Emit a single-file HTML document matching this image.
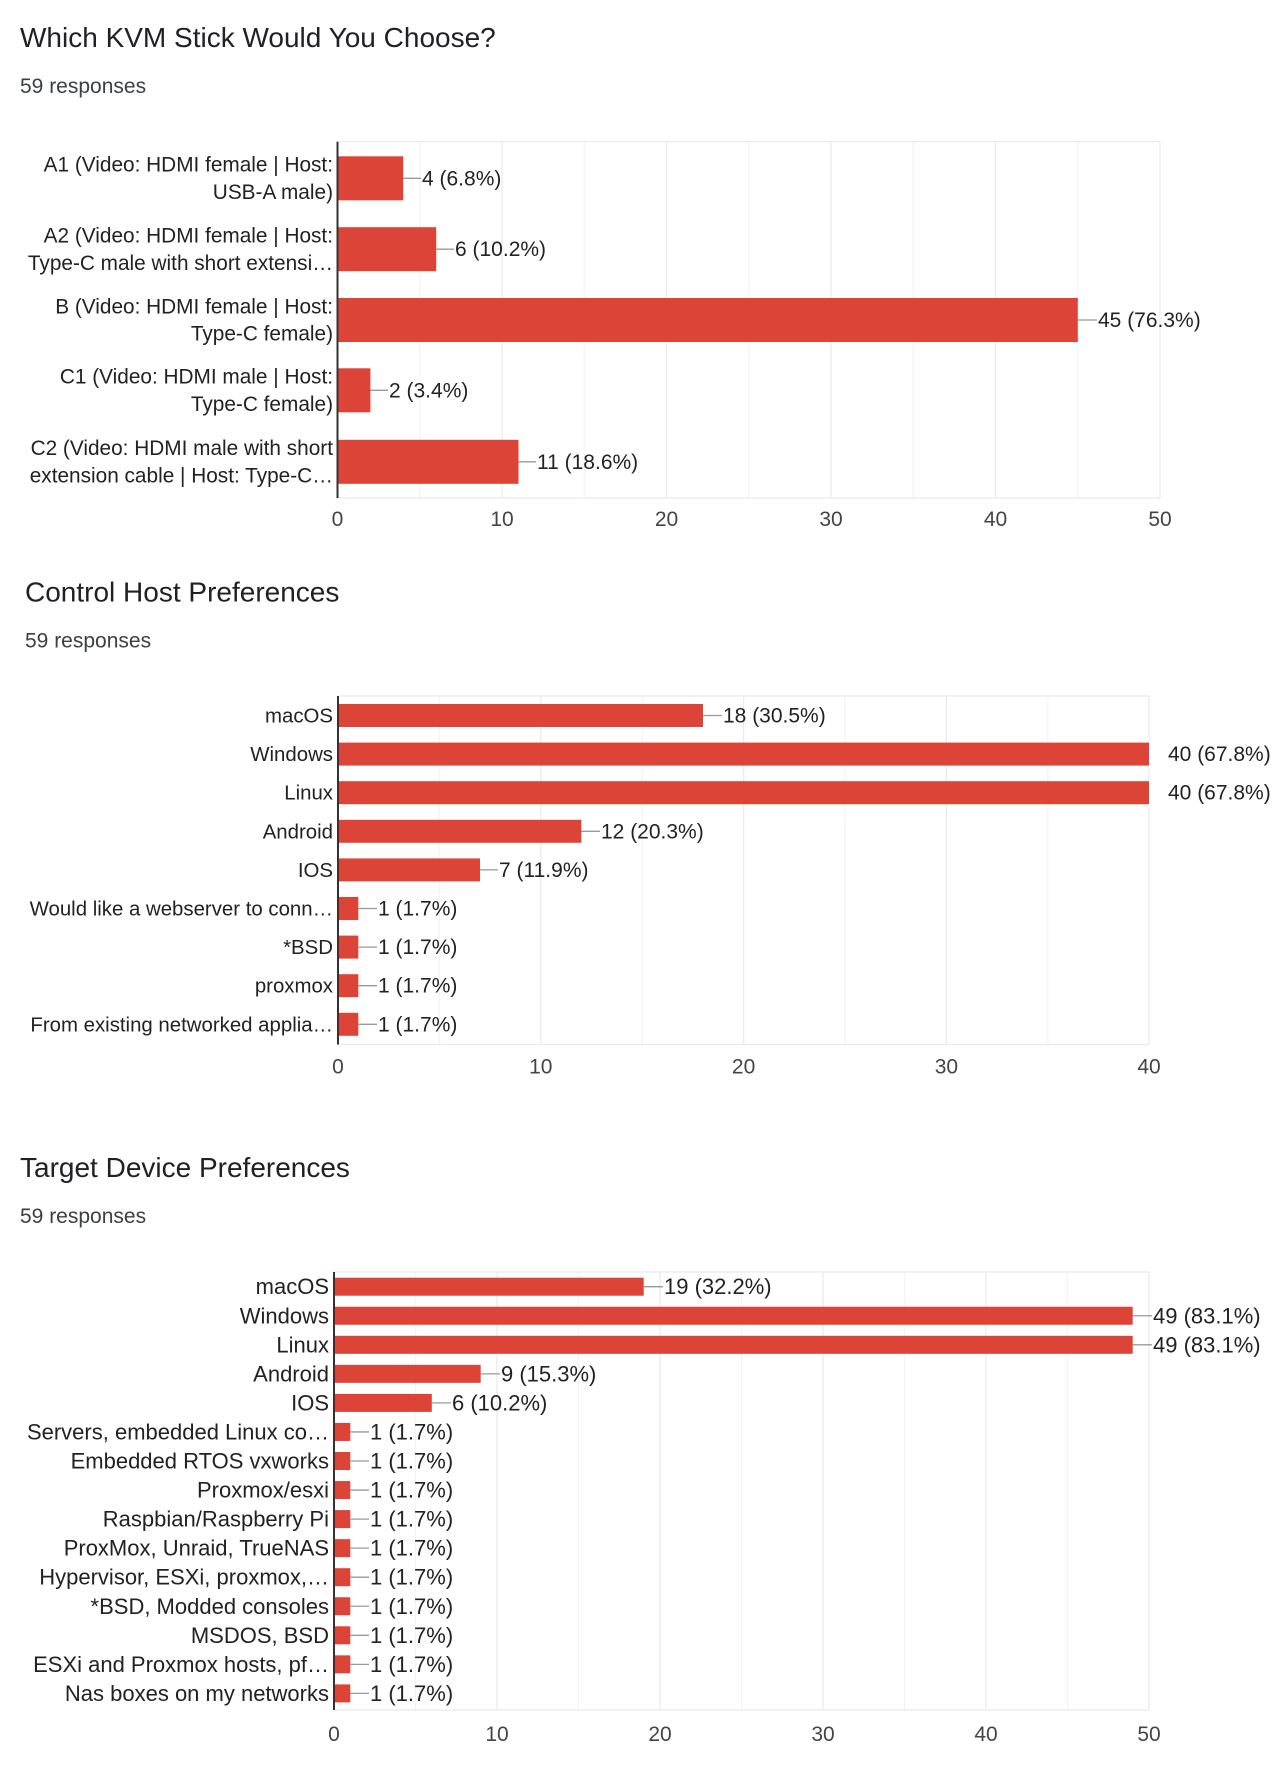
<!DOCTYPE html>
<html><head><meta charset="utf-8"><style>
html,body{margin:0;padding:0;background:#fff;}
svg{display:block;font-family:"Liberation Sans",Arial,sans-serif;}
.t{font-size:28px;fill:#202124;}
.s{font-size:21px;fill:#3c4043;}
.l{font-size:20.8px;fill:#222;}
.l2{font-size:20.4px;fill:#222;}
.v{font-size:21px;fill:#222;}
.k{font-size:21px;fill:#444;}
.l3{font-size:22px;fill:#222;}
.v3{font-size:22px;fill:#222;}
.g{stroke:#ebebeb;stroke-width:1.3;}
.gm{stroke:#f4f4f4;stroke-width:1.3;}
.ld{stroke:#999;stroke-width:1.3;}
.ax{stroke:#333;stroke-width:2;}
.b{fill:#db4437;}
</style></head><body>
<svg width="1279" height="1783" viewBox="0 0 1279 1783">
<!-- Chart 1 -->
<text class="t" x="20" y="47">Which KVM Stick Would You Choose?</text>
<text class="s" x="20" y="93">59 responses</text>
<g>
<line class="gm" x1="419.75" y1="141.7" x2="419.75" y2="498"/><line class="g" x1="502" y1="141.7" x2="502" y2="498"/>
<line class="gm" x1="584.25" y1="141.7" x2="584.25" y2="498"/><line class="g" x1="666.5" y1="141.7" x2="666.5" y2="498"/>
<line class="gm" x1="748.75" y1="141.7" x2="748.75" y2="498"/><line class="g" x1="831" y1="141.7" x2="831" y2="498"/>
<line class="gm" x1="913.25" y1="141.7" x2="913.25" y2="498"/><line class="g" x1="995.5" y1="141.7" x2="995.5" y2="498"/>
<line class="gm" x1="1077.75" y1="141.7" x2="1077.75" y2="498"/><line class="g" x1="1160" y1="141.7" x2="1160" y2="498"/>
<line class="g" x1="337.5" y1="141.7" x2="1160" y2="141.7"/><line class="g" x1="337.5" y1="498" x2="1160" y2="498"/>
<rect class="b" x="337.5" y="156.3" width="65.8" height="44"/>
<rect class="b" x="337.5" y="227.2" width="98.7" height="44"/>
<rect class="b" x="337.5" y="298" width="740.3" height="44"/>
<rect class="b" x="337.5" y="368.3" width="32.9" height="44"/>
<rect class="b" x="337.5" y="439.8" width="181" height="44"/>
<line class="ax" x1="337.5" y1="141.7" x2="337.5" y2="498"/>
<line class="ld" x1="403.3" y1="178.3" x2="421" y2="178.3"/><text class="v" x="422" y="185.3">4 (6.8%)</text>
<line class="ld" x1="436.2" y1="249.2" x2="454" y2="249.2"/><text class="v" x="455" y="256.2">6 (10.2%)</text>
<line class="ld" x1="1077.8" y1="320" x2="1097" y2="320"/><text class="v" x="1098" y="327">45 (76.3%)</text>
<line class="ld" x1="370.4" y1="390.3" x2="388" y2="390.3"/><text class="v" x="389" y="397.3">2 (3.4%)</text>
<line class="ld" x1="518.5" y1="461.8" x2="536" y2="461.8"/><text class="v" x="537" y="468.8">11 (18.6%)</text>
<g text-anchor="end">
<text class="l" x="333" y="171.6">A1 (Video: HDMI female | Host:</text><text class="l" x="333" y="199">USB-A male)</text>
<text class="l" x="333" y="242.5">A2 (Video: HDMI female | Host:</text><text class="l" x="333" y="269.9">Type-C male with short extensi…</text>
<text class="l" x="333" y="313.3">B (Video: HDMI female | Host:</text><text class="l" x="333" y="340.7">Type-C female)</text>
<text class="l" x="333" y="383.6">C1 (Video: HDMI male | Host:</text><text class="l" x="333" y="411">Type-C female)</text>
<text class="l" x="333" y="455.1">C2 (Video: HDMI male with short</text><text class="l" x="333" y="482.5">extension cable | Host: Type-C…</text>
</g>
<g text-anchor="middle">
<text class="k" x="337.5" y="526">0</text><text class="k" x="502" y="526">10</text><text class="k" x="666.5" y="526">20</text>
<text class="k" x="831" y="526">30</text><text class="k" x="995.5" y="526">40</text><text class="k" x="1160" y="526">50</text>
</g>
</g>
<!-- Chart 2 -->
<g transform="translate(0,-3.5)">
<text class="t" x="25" y="605">Control Host Preferences</text>
<text class="s" x="25" y="651">59 responses</text>
<line class="gm" x1="439.4" y1="699.5" x2="439.4" y2="1048"/><line class="g" x1="540.8" y1="699.5" x2="540.8" y2="1048"/>
<line class="gm" x1="642.2" y1="699.5" x2="642.2" y2="1048"/><line class="g" x1="743.6" y1="699.5" x2="743.6" y2="1048"/>
<line class="gm" x1="845" y1="699.5" x2="845" y2="1048"/><line class="g" x1="946.4" y1="699.5" x2="946.4" y2="1048"/>
<line class="gm" x1="1047.8" y1="699.5" x2="1047.8" y2="1048"/><line class="g" x1="1149" y1="699.5" x2="1149" y2="1048"/>
<line class="g" x1="338" y1="699.5" x2="1149" y2="699.5"/><line class="g" x1="338" y1="1048" x2="1149" y2="1048"/>
<rect class="b" x="338" y="707.5" width="365" height="23"/>
<rect class="b" x="338" y="746.1" width="811" height="23"/>
<rect class="b" x="338" y="784.7" width="811" height="23"/>
<rect class="b" x="338" y="823.3" width="243.4" height="23"/>
<rect class="b" x="338" y="861.9" width="142" height="23"/>
<rect class="b" x="338" y="900.5" width="20.3" height="23"/>
<rect class="b" x="338" y="939.1" width="20.3" height="23"/>
<rect class="b" x="338" y="977.7" width="20.3" height="23"/>
<rect class="b" x="338" y="1016.3" width="20.3" height="23"/>
<line class="ax" x1="338" y1="699.5" x2="338" y2="1048"/>
<line class="ld" x1="703" y1="719" x2="722" y2="719"/><text class="v" x="723" y="726">18 (30.5%)</text>
<text class="v" x="1168" y="764.6">40 (67.8%)</text>
<text class="v" x="1168" y="803.2">40 (67.8%)</text>
<line class="ld" x1="581.4" y1="834.8" x2="600" y2="834.8"/><text class="v" x="601" y="841.8">12 (20.3%)</text>
<line class="ld" x1="480" y1="873.4" x2="498" y2="873.4"/><text class="v" x="499" y="880.4">7 (11.9%)</text>
<line class="ld" x1="358.3" y1="912" x2="377" y2="912"/><text class="v" x="378" y="919">1 (1.7%)</text>
<line class="ld" x1="358.3" y1="950.6" x2="377" y2="950.6"/><text class="v" x="378" y="957.6">1 (1.7%)</text>
<line class="ld" x1="358.3" y1="989.2" x2="377" y2="989.2"/><text class="v" x="378" y="996.2">1 (1.7%)</text>
<line class="ld" x1="358.3" y1="1027.8" x2="377" y2="1027.8"/><text class="v" x="378" y="1034.8">1 (1.7%)</text>
<g text-anchor="end">
<text class="l2" x="333" y="726">macOS</text>
<text class="l2" x="333" y="764.6">Windows</text>
<text class="l2" x="333" y="803.2">Linux</text>
<text class="l2" x="333" y="841.8">Android</text>
<text class="l2" x="333" y="880.4">IOS</text>
<text class="l2" x="333" y="919">Would like a webserver to conn…</text>
<text class="l2" x="333" y="957.6">*BSD</text>
<text class="l2" x="333" y="996.2">proxmox</text>
<text class="l2" x="333" y="1034.8">From existing networked applia…</text>
</g>
<g text-anchor="middle">
<text class="k" x="338" y="1077">0</text><text class="k" x="540.8" y="1077">10</text><text class="k" x="743.6" y="1077">20</text>
<text class="k" x="946.4" y="1077">30</text><text class="k" x="1149" y="1077">40</text>
</g>
</g>
<!-- Chart 3 -->
<text class="t" x="20" y="1177">Target Device Preferences</text>
<text class="s" x="20" y="1223">59 responses</text>
<g>
<line class="gm" x1="415.5" y1="1272" x2="415.5" y2="1710"/><line class="g" x1="497" y1="1272" x2="497" y2="1710"/>
<line class="gm" x1="578.5" y1="1272" x2="578.5" y2="1710"/><line class="g" x1="660" y1="1272" x2="660" y2="1710"/>
<line class="gm" x1="741.5" y1="1272" x2="741.5" y2="1710"/><line class="g" x1="823" y1="1272" x2="823" y2="1710"/>
<line class="gm" x1="904.5" y1="1272" x2="904.5" y2="1710"/><line class="g" x1="986" y1="1272" x2="986" y2="1710"/>
<line class="gm" x1="1067.5" y1="1272" x2="1067.5" y2="1710"/><line class="g" x1="1149" y1="1272" x2="1149" y2="1710"/>
<line class="g" x1="334" y1="1272" x2="1149" y2="1272"/><line class="g" x1="334" y1="1710" x2="1149" y2="1710"/>
<rect class="b" x="334" y="1277.7" width="309.7" height="18"/>
<rect class="b" x="334" y="1306.75" width="798.7" height="18"/>
<rect class="b" x="334" y="1335.8" width="798.7" height="18"/>
<rect class="b" x="334" y="1364.85" width="146.7" height="18"/>
<rect class="b" x="334" y="1393.9" width="97.8" height="18"/>
<rect class="b" x="334" y="1422.95" width="16.3" height="18"/>
<rect class="b" x="334" y="1452" width="16.3" height="18"/>
<rect class="b" x="334" y="1481.05" width="16.3" height="18"/>
<rect class="b" x="334" y="1510.1" width="16.3" height="18"/>
<rect class="b" x="334" y="1539.15" width="16.3" height="18"/>
<rect class="b" x="334" y="1568.2" width="16.3" height="18"/>
<rect class="b" x="334" y="1597.25" width="16.3" height="18"/>
<rect class="b" x="334" y="1626.3" width="16.3" height="18"/>
<rect class="b" x="334" y="1655.35" width="16.3" height="18"/>
<rect class="b" x="334" y="1684.4" width="16.3" height="18"/>
<line class="ax" x1="334" y1="1272" x2="334" y2="1710"/>
<line class="ld" x1="643.7" y1="1286.7" x2="663" y2="1286.7"/><text class="v3" x="664" y="1294.2">19 (32.2%)</text>
<line class="ld" x1="1132.7" y1="1315.75" x2="1152" y2="1315.75"/><text class="v3" x="1153" y="1323.25">49 (83.1%)</text>
<line class="ld" x1="1132.7" y1="1344.8" x2="1152" y2="1344.8"/><text class="v3" x="1153" y="1352.3">49 (83.1%)</text>
<line class="ld" x1="480.7" y1="1373.85" x2="500" y2="1373.85"/><text class="v3" x="501" y="1381.35">9 (15.3%)</text>
<line class="ld" x1="431.8" y1="1402.9" x2="451" y2="1402.9"/><text class="v3" x="452" y="1410.4">6 (10.2%)</text>
<g>
<line class="ld" x1="350.3" y1="1431.95" x2="369" y2="1431.95"/><text class="v3" x="370" y="1439.45">1 (1.7%)</text>
<line class="ld" x1="350.3" y1="1461" x2="369" y2="1461"/><text class="v3" x="370" y="1468.5">1 (1.7%)</text>
<line class="ld" x1="350.3" y1="1490.05" x2="369" y2="1490.05"/><text class="v3" x="370" y="1497.55">1 (1.7%)</text>
<line class="ld" x1="350.3" y1="1519.1" x2="369" y2="1519.1"/><text class="v3" x="370" y="1526.6">1 (1.7%)</text>
<line class="ld" x1="350.3" y1="1548.15" x2="369" y2="1548.15"/><text class="v3" x="370" y="1555.65">1 (1.7%)</text>
<line class="ld" x1="350.3" y1="1577.2" x2="369" y2="1577.2"/><text class="v3" x="370" y="1584.7">1 (1.7%)</text>
<line class="ld" x1="350.3" y1="1606.25" x2="369" y2="1606.25"/><text class="v3" x="370" y="1613.75">1 (1.7%)</text>
<line class="ld" x1="350.3" y1="1635.3" x2="369" y2="1635.3"/><text class="v3" x="370" y="1642.8">1 (1.7%)</text>
<line class="ld" x1="350.3" y1="1664.35" x2="369" y2="1664.35"/><text class="v3" x="370" y="1671.85">1 (1.7%)</text>
<line class="ld" x1="350.3" y1="1693.4" x2="369" y2="1693.4"/><text class="v3" x="370" y="1700.9">1 (1.7%)</text>
</g>
<g text-anchor="end">
<text class="l3" x="329" y="1294.2">macOS</text>
<text class="l3" x="329" y="1323.25">Windows</text>
<text class="l3" x="329" y="1352.3">Linux</text>
<text class="l3" x="329" y="1381.35">Android</text>
<text class="l3" x="329" y="1410.4">IOS</text>
<text class="l3" x="329" y="1439.45">Servers, embedded Linux co…</text>
<text class="l3" x="329" y="1468.5">Embedded RTOS vxworks</text>
<text class="l3" x="329" y="1497.55">Proxmox/esxi</text>
<text class="l3" x="329" y="1526.6">Raspbian/Raspberry Pi</text>
<text class="l3" x="329" y="1555.65">ProxMox, Unraid, TrueNAS</text>
<text class="l3" x="329" y="1584.7">Hypervisor, ESXi, proxmox,…</text>
<text class="l3" x="329" y="1613.75">*BSD, Modded consoles</text>
<text class="l3" x="329" y="1642.8">MSDOS, BSD</text>
<text class="l3" x="329" y="1671.85">ESXi and Proxmox hosts, pf…</text>
<text class="l3" x="329" y="1700.9">Nas boxes on my networks</text>
</g>
<g text-anchor="middle">
<text class="k" x="334" y="1741">0</text><text class="k" x="497" y="1741">10</text><text class="k" x="660" y="1741">20</text>
<text class="k" x="823" y="1741">30</text><text class="k" x="986" y="1741">40</text><text class="k" x="1149" y="1741">50</text>
</g>
</g>
</svg>
</body></html>
